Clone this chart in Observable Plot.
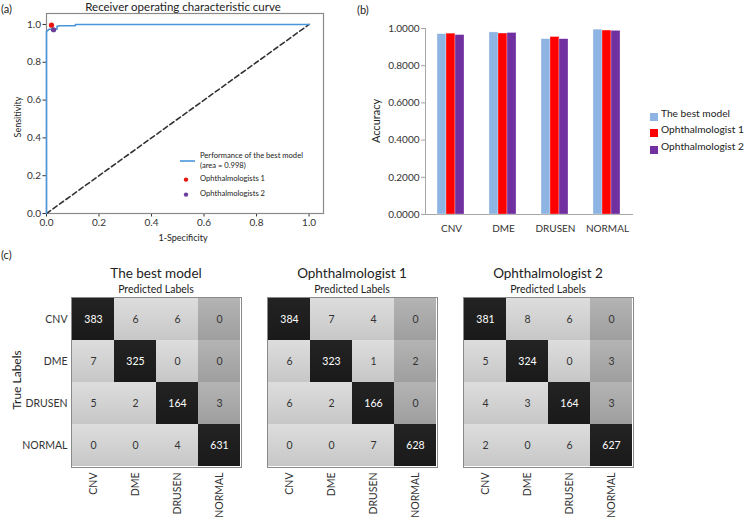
<!DOCTYPE html>
<html><head><meta charset="utf-8">
<script src="https://cdn.jsdelivr.net/npm/d3@7"></script>
<script src="https://cdn.jsdelivr.net/npm/@observablehq/plot@0.6"></script>
<style>
body{margin:0;background:#fff;}
#root{position:relative;width:748px;height:518px;overflow:hidden;font-family:Lato,sans-serif;color:#222;}
.abs{position:absolute;white-space:nowrap;line-height:1;}
.layer{position:absolute;}
</style></head><body>
<svg width="0" height="0" style="position:absolute">
<defs>
<linearGradient id="gLight" x1="0" y1="0" x2="0" y2="1"><stop offset="0" stop-color="#dddddd"/><stop offset="1" stop-color="#c7c7c7"/></linearGradient>
<linearGradient id="gMid" x1="0" y1="0" x2="0" y2="1"><stop offset="0" stop-color="#b4b4b4"/><stop offset="1" stop-color="#9f9f9f"/></linearGradient>
<linearGradient id="gDark" x1="0" y1="0" x2="0" y2="1"><stop offset="0" stop-color="#232323"/><stop offset="1" stop-color="#1a1a1a"/></linearGradient>
</defs></svg>
<div id="root"></div>
<script>
// ---------- DATA ----------
// (a) ROC curve
const rocFpr = [0, 0, 0, 0.01, 0.04, 0.04, 0.05, 0.11, 0.11, 1.0];
const rocTpr = [0, 0.93, 0.962, 0.975, 0.975, 0.99, 0.993, 0.993, 1.0, 1.0];
const chanceLine = [0, 1];
const ophNames = ["Ophthalmologists 1", "Ophthalmologists 2"];
const ophFpr = [0.019, 0.027];
const ophTpr = [0.996, 0.972];
const rocTicks = [0, 0.2, 0.4, 0.6, 0.8, 1.0];

// (b) accuracy per class
const classes = ["CNV", "DME", "DRUSEN", "NORMAL"];
const raters = ["The best model", "Ophthalmologist 1", "Ophthalmologist 2"];
const accModel = [0.9696, 0.9789, 0.9425, 0.9937];
const accOph1 = [0.9722, 0.9729, 0.9540, 0.9890];
const accOph2 = [0.9646, 0.9759, 0.9425, 0.9874];
const accTicks = [0, 0.2, 0.4, 0.6, 0.8, 1.0];

// (c) confusion matrices (rows: true, cols: predicted)
const cmModel = [[383, 6, 6, 0], [7, 325, 0, 0], [5, 2, 164, 3], [0, 0, 4, 631]];
const cmOph1 = [[384, 7, 4, 0], [6, 323, 1, 2], [6, 2, 166, 0], [0, 0, 7, 628]];
const cmOph2 = [[381, 8, 6, 0], [5, 324, 0, 3], [4, 3, 164, 3], [2, 0, 6, 627]];

// ---------- STYLE ----------
const rocBlue = "#4a96dc";
const ophColors = ["#e8140e", "#6a3d9a"];
const raterColors = ["#8db4e2", "#ff0000", "#7030a0"];

const root = document.getElementById("root");
function place(node, left, top) {
  const d = document.createElement("div");
  d.className = "layer";
  d.style.left = left + "px"; d.style.top = top + "px";
  d.appendChild(node); root.appendChild(d);
}
function label(text, x, y, size, opts = {}) {
  const d = document.createElement("div");
  d.className = "abs";
  d.textContent = text;
  d.style.fontSize = size + "px";
  d.style.left = x + "px"; d.style.top = y + "px";
  const align = opts.align || "center";
  let tf = align === "center" ? "translate(-50%,-50%)" : align === "left" ? "translate(0,-50%)" : "translate(-100%,-50%)";
  if (opts.rotate) tf += " rotate(-90deg)";
  d.style.transform = tf;
  if (opts.color) d.style.color = opts.color;
  root.appendChild(d);
  return d;
}
const baseStyle = {background: "transparent", fontFamily: "Lato, sans-serif", color: "#333", overflow: "visible"};

// ---------- (a) ROC ----------
const roc = rocFpr.map((x, i) => ({x, y: rocTpr[i]}));
const oph = ophNames.map((n, i) => ({n, x: ophFpr[i], y: ophTpr[i], c: ophColors[i]}));
const plotA = Plot.plot({
  width: 340, height: 250,
  marginLeft: 46, marginTop: 13, marginRight: 17, marginBottom: 37,
  style: {...baseStyle, fontSize: "10px"},
  x: {domain: [0, 1.055], ticks: rocTicks, tickFormat: ".1f", tickSize: 3.5, tickPadding: 2, label: null},
  y: {domain: [0, 1.058], ticks: rocTicks, tickFormat: ".1f", tickSize: 3.5, tickPadding: 2, label: null},
  color: {type: "identity"},
  marks: [
    Plot.frame({stroke: "#8a8a8a", strokeWidth: 1.2}),
    Plot.line(chanceLine, {x: d => d, y: d => d, stroke: "#333", strokeWidth: 1.6, strokeDasharray: "5,3"}),
    Plot.line(roc, {x: "x", y: "y", stroke: rocBlue, strokeWidth: 1.6}),
    Plot.dot(oph, {x: "x", y: "y", fill: "c", r: 2.6})
  ]
});
place(plotA, 0, 0);
label("(a)", 1, 8, 11, {align: "left"});
label("Receiver operating characteristic curve", 183, 7, 11.5);
label("Sensitivity", 17, 117, 9, {rotate: true});
label("1-Specificity", 183, 237, 9);
// legend (a)
(function () {
  const s = d3.create("svg").attr("width", 30).attr("height", 60);
  s.append("line").attr("x1", 0).attr("x2", 15).attr("y1", 5).attr("y2", 5).attr("stroke", rocBlue).attr("stroke-width", 1.6);
  s.append("circle").attr("cx", 6).attr("cy", 23.6).attr("r", 2.2).attr("fill", ophColors[0]);
  s.append("circle").attr("cx", 6).attr("cy", 38.6).attr("r", 2.2).attr("fill", ophColors[1]);
  place(s.node(), 180, 155.7);
  label("Performance of the best model", 200, 155.7, 7.6, {align: "left"});
  label("(area = 0.998)", 200, 165.7, 7.6, {align: "left"});
  label(ophNames[0], 200, 179.3, 7.6, {align: "left"});
  label(ophNames[1], 200, 194.3, 7.6, {align: "left"});
})();

// ---------- (b) accuracy bars ----------
const accSeries = [accModel, accOph1, accOph2];
const accData = classes.flatMap((c, i) => raters.map((r, k) => ({cls: c, rater: r, v: accSeries[k][i]})));
const dimsB = {width: 300, height: 250, marginLeft: 85, marginRight: 7, marginTop: 28, marginBottom: 36};
// axes layer
const plotBAxes = Plot.plot({
  ...dimsB,
  style: {...baseStyle, fontSize: "10px"},
  x: {type: "band", domain: classes, padding: 0, axis: null},
  y: {domain: [0, 1], axis: null},
  marks: [
    Plot.ruleY([0], {stroke: "#a6a6a6"}),
    Plot.frame({anchor: "left", stroke: "#a6a6a6"}),
    Plot.axisY({ticks: accTicks, tickFormat: ".4f", tickSize: 4, tickPadding: 2, stroke: "#a6a6a6", fill: "#333", label: null}),
    Plot.axisX({tickSize: 0, tickPadding: 10, fill: "#333", label: null})
  ]
});
place(plotBAxes, 340, 0);
// bars layer
const plotB = Plot.plot({
  ...dimsB,
  style: {...baseStyle, fontSize: "10px"},
  fx: {domain: classes, paddingInner: 0.48, paddingOuter: 0.24, axis: null, label: null},
  x: {domain: raters, paddingInner: 0.05, paddingOuter: 0, axis: null},
  y: {domain: [0, 1], axis: null},
  color: {domain: raters, range: raterColors},
  marks: [
    Plot.barY(accData, {fx: "cls", x: "rater", y: "v", fill: "rater", stroke: "#fff", strokeOpacity: 0.5, strokeWidth: 0.6})
  ]
});
place(plotB, 340, 0);
label("(b)", 357, 9, 11, {align: "left"});
label("Accuracy", 375, 121, 11, {rotate: true});
// legend (b)
(function () {
  const ys = [113, 129, 146];
  const s = d3.create("svg").attr("width", 10).attr("height", 50);
  raters.forEach((r, k) => s.append("rect").attr("x", 0).attr("y", ys[k] - 108).attr("width", 8).attr("height", 8).attr("fill", raterColors[k]));
  place(s.node(), 650, 108);
  raters.forEach((r, k) => label(r, 661, ys[k], 10.2, {align: "left"}));
})();

// ---------- (c) confusion matrices ----------
label("(c)", 1, 254, 11, {align: "left"});
label("True Labels", 17, 380, 12, {rotate: true});
const cmList = [cmModel, cmOph1, cmOph2];
const cmLeft = [71, 267, 463];
cmList.forEach((cm, k) => {
  const cells = cm.flatMap((row, i) => row.map((v, j) => ({
    t: classes[i], p: classes[j], v,
    tone: i === j ? "url(#gDark)" : (j === 3 ? "url(#gMid)" : "url(#gLight)"),
    ink: i === j ? "#ffffff" : "#333333"
  })));
  const leftM = k === 0 ? 71 : 6;
  const svg = Plot.plot({
    width: leftM + 170 + 10, height: 258,
    marginLeft: leftM, marginRight: 10, marginTop: 37, marginBottom: 51,
    style: {...baseStyle, fontSize: "10.5px"},
    x: {domain: classes, padding: 0, axis: "bottom", tickRotate: -90, tickSize: 0, tickPadding: 5, label: null},
    y: {domain: classes, padding: 0, axis: k === 0 ? "left" : null, tickSize: 0, tickPadding: 4, label: null},
    color: {type: "identity"},
    marks: [
      Plot.cell(cells, {x: "p", y: "t", fill: "tone"}),
      Plot.text(cells, {x: "p", y: "t", text: d => String(d.v), fill: "ink", fontSize: 10.5}),
      Plot.frame({stroke: "#8a8a8a"})
    ]
  });
  place(svg, cmLeft[k] - leftM, 260);
  const cx = cmLeft[k] + 85;
  label(raters[k], cx, 274, 13.5);
  label("Predicted Labels", cx, 289, 10.5);
});
</script>
</body></html>
